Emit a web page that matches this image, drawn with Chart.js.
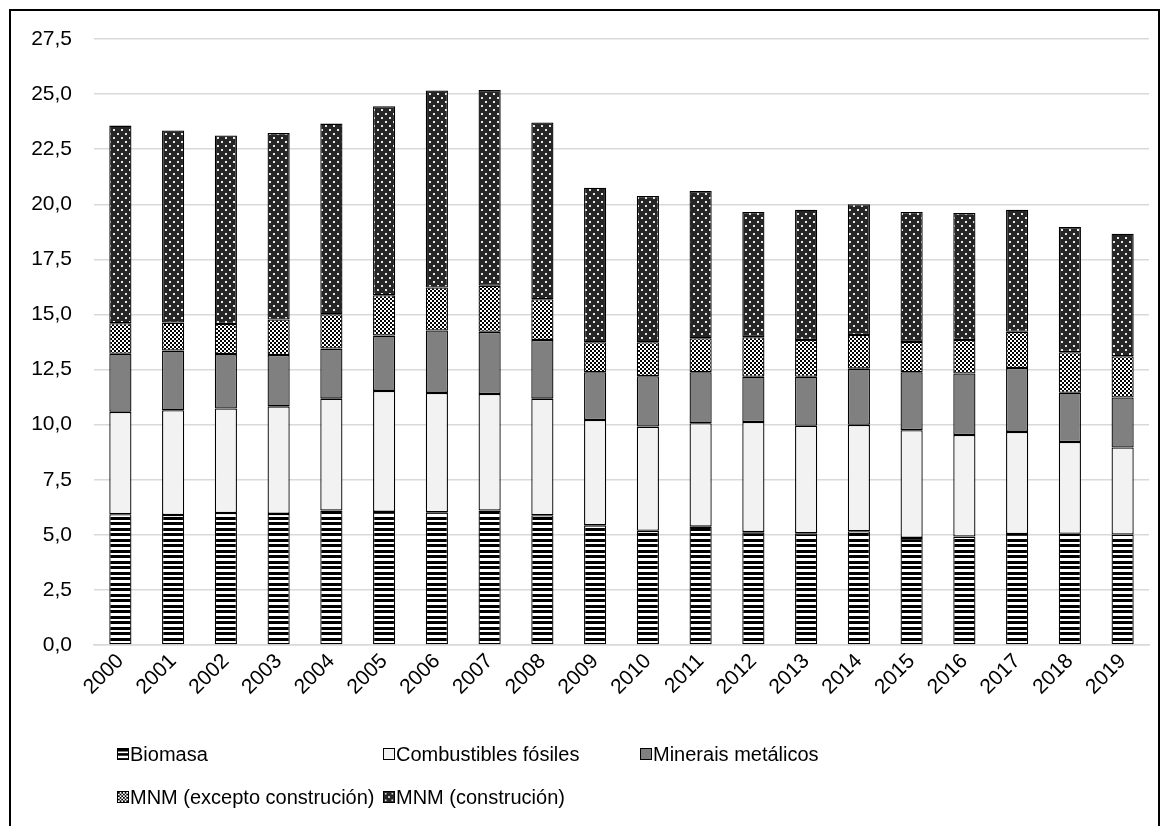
<!DOCTYPE html>
<html>
<head>
<meta charset="utf-8">
<script src="https://cdn.jsdelivr.net/npm/chart.js@4/dist/chart.umd.min.js"></script>
<style>
  html, body { margin: 0; padding: 0; background: #fff; }
  body { width: 1166px; height: 826px; position: relative; overflow: hidden; font-family: "Liberation Sans", Arial, sans-serif; }
  #frame { position: absolute; left: 9px; top: 9px; width: 1151px; height: 840px; border: 2px solid #000; box-sizing: border-box; }
  #chart { position: absolute; left: 0; top: 0; }
  .leg { position: absolute; font-size: 20px; color: #000; white-space: nowrap; line-height: 24px; display: flex; align-items: center; }
  .leg canvas { width: 12px; height: 12px; box-sizing: border-box; border: 1px solid #000; margin-right: 1px; }
</style>
</head>
<body>
<div id="frame"></div>
<canvas id="chart" width="1166" height="826"></canvas>
<div id="legend"></div>
<script>
// Years on the category axis
const years = ['2000','2001','2002','2003','2004','2005','2006','2007','2008','2009',
               '2010','2011','2012','2013','2014','2015','2016','2017','2018','2019'];

// Material flows by group (stacked)
const biomasa   = [5.93,5.90,5.99,5.95,6.10,6.04,6.02,6.10,5.89,5.43,5.18,5.37,5.12,5.07,5.16,4.86,4.92,5.04,5.05,5.01];
const fosiles   = [4.65,4.75,4.74,4.88,5.08,5.49,5.42,5.29,5.29,4.78,4.73,4.69,5.00,4.88,4.83,4.89,4.61,4.63,4.16,3.95];
const metalicos = [2.64,2.71,2.47,2.33,2.27,2.51,2.83,2.82,2.66,2.17,2.29,2.32,2.05,2.22,2.55,2.63,2.79,2.90,2.24,2.27];
const mnmExc    = [1.38,1.27,1.37,1.61,1.56,1.83,1.95,2.09,1.85,1.36,1.54,1.54,1.80,1.67,1.53,1.37,1.52,1.64,1.84,1.87];
const mnmCons   = [8.97,8.72,8.55,8.46,8.65,8.58,8.94,8.89,8.02,7.01,6.64,6.68,5.68,5.91,5.93,5.90,5.76,5.54,5.68,5.56];

// Series names
const seriesNames = ['Biomasa','Combustibles fósiles','Minerais metálicos','MNM (excepto construción)','MNM (construción)'];

// Fill patterns
function makeTile(w, h, draw) {
  const c = document.createElement('canvas');
  c.width = w; c.height = h;
  draw(c.getContext('2d'));
  return c;
}
const stripeTile = makeTile(1, 11, g => {
  g.fillStyle = '#fff'; g.fillRect(0, 0, 1, 11);
  g.fillStyle = '#000'; g.fillRect(0, 0, 1, 3); g.fillRect(0, 5, 1, 3);
});
const checkTile = makeTile(4, 4, g => {
  g.fillStyle = '#fff'; g.fillRect(0, 0, 4, 4);
  g.fillStyle = '#000'; g.fillRect(0, 0, 2, 2); g.fillRect(2, 2, 2, 2);
});
const dotTile = makeTile(8, 8, g => {
  g.fillStyle = '#262626'; g.fillRect(0, 0, 8, 8);
  g.fillStyle = '#e8e8e8'; g.fillRect(1, 1, 2, 2); g.fillRect(5, 5, 2, 2);
});

const ctx = document.getElementById('chart').getContext('2d');
const fills = [
  ctx.createPattern(stripeTile, 'repeat'),
  '#f2f2f2',
  '#808080',
  ctx.createPattern(checkTile, 'repeat'),
  ctx.createPattern(dotTile, 'repeat')
];
const seriesValues = [biomasa, fosiles, metalicos, mnmExc, mnmCons];

const datasets = seriesNames.map((name, i) => ({
  label: name,
  data: seriesValues[i],
  backgroundColor: fills[i],
  borderColor: '#000',
  borderWidth: 1.3,
  borderSkipped: false,
  categoryPercentage: 1,
  barPercentage: 0.42
}));

const font = { family: '"Liberation Sans", Arial, sans-serif', size: 21 };

new Chart(ctx, {
  type: 'bar',
  data: { labels: years, datasets },
  options: {
    responsive: false,
    animation: false,
    devicePixelRatio: 1,
    layout: { padding: { left: 0, right: 17, top: 39, bottom: 0 } },
    plugins: { legend: { display: false }, tooltip: { enabled: false } },
    scales: {
      x: {
        stacked: true,
        grid: { display: false, drawTicks: false },
        border: { display: true, color: '#d9d9d9', width: 1.5 },
        ticks: { color: '#000', font, maxRotation: 45, minRotation: 45, padding: 4, autoSkip: false },
        afterFit: s => { s.height = 181; }
      },
      y: {
        stacked: true,
        min: 0, max: 27.5,
        grid: { color: '#d9d9d9', lineWidth: 1.5, drawTicks: false },
        border: { display: false },
        ticks: {
          stepSize: 2.5, color: '#000', font, padding: 22,
          callback: v => Number(v).toFixed(1).replace('.', ',')
        },
        afterFit: s => { s.width = 94; }
      }
    }
  }
});

// Legend entries laid out on a column grid, built from the series names and fills
const tiles = [stripeTile, null, null, checkTile, dotTile];
const colLeft = [117, 383, 640];
const rowTop = [742, 785];
const legend = document.getElementById('legend');
seriesNames.forEach((name, i) => {
  const item = document.createElement('div');
  item.className = 'leg';
  item.style.left = colLeft[i % 3] + 'px';
  item.style.top = rowTop[Math.floor(i / 3)] + 'px';
  const sw = document.createElement('canvas');
  sw.width = 12; sw.height = 12;
  const g = sw.getContext('2d');
  g.fillStyle = tiles[i] ? g.createPattern(tiles[i], 'repeat') : fills[i];
  g.fillRect(0, 0, 12, 12);
  item.appendChild(sw);
  item.appendChild(document.createTextNode(name));
  legend.appendChild(item);
});
</script>
</body>
</html>
